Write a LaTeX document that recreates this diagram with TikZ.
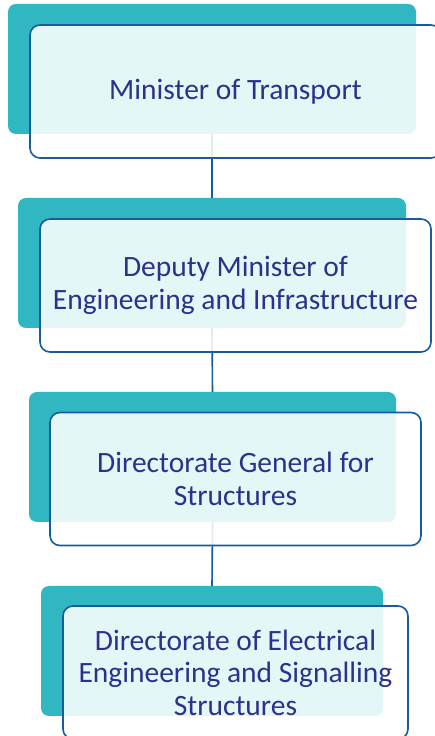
\documentclass[tikz,border=0pt]{standalone}
\usepackage{fontspec}
\setmainfont{Carlito}

\begin{document}
\begin{tikzpicture}[x=1pt,y=1pt]
\definecolor{fillColor}{RGB}{255,255,255}
\definecolor{backColor}{RGB}{49,183,193}
\definecolor{drawColor}{RGB}{24,92,158}
\definecolor{textColor}{RGB}{46,49,140}
\tikzset{
  backbox/.style={fill=backColor,draw=none,rounded corners=8pt,minimum height=130pt,inner sep=0pt,outer sep=0pt},
  frontbox/.style={fill=fillColor,fill opacity=0.88,text opacity=1,draw=drawColor,line width=1.6pt,rounded corners=10pt,
    minimum height=133pt,inner sep=0pt,outer sep=0pt,text=textColor,align=center,
    font=\fontsize{29.5}{32.5}\selectfont},
  link/.style={draw=drawColor,line width=1.6pt}
}
\path[use as bounding box,fill=fillColor] (0,0) rectangle (435,736);
\begin{scope}
\path[clip] (0,0) rectangle (435,736);

\node[backbox,minimum width=408pt] (back1) at (212,667) {};
\node[backbox,minimum width=388pt] (back2) at (212,473) {};
\node[backbox,minimum width=367pt] (back3) at (212.5,279) {};
\node[backbox,minimum width=342pt] (back4) at (212,85) {};

\path[link] (back1.south) -- (back2.north);
\path[link] (back2.south) -- (back3.north);
\path[link] (back3.south) -- (back4.north);

\node[frontbox,minimum width=411pt] (front1) at (235.5,644.5) {Minister of Transport};
\node[frontbox,minimum width=391pt] (front2) at (235.5,450.5) {Deputy Minister of\\Engineering and Infrastructure};
\node[frontbox,minimum width=371pt] (front3) at (235.5,257) {Directorate General for\\Structures};
\node[frontbox,minimum width=345pt] (front4) at (235.5,63.5) {Directorate of Electrical\\Engineering and Signalling\\Structures};
\end{scope}
\end{tikzpicture}
\end{document}
